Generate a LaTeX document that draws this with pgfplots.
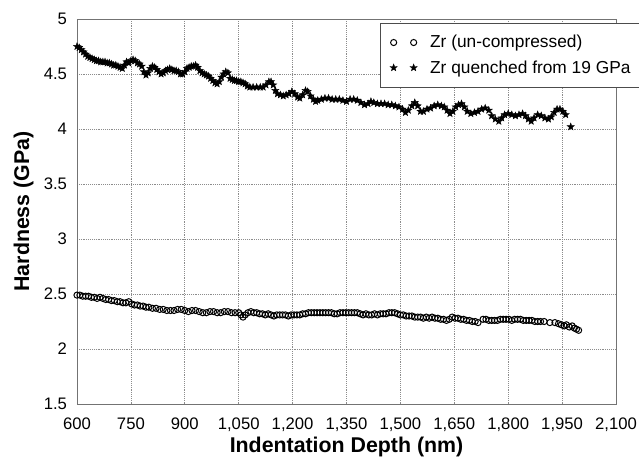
\documentclass[border=0pt]{standalone}
\usepackage{fontspec}
\setmainfont{Liberation Sans}
\usepackage{pgfplots}
\pgfplotsset{compat=1.18}

\pgfdeclareplotmark{fstar}{%
  \pgfpathmoveto{\pgfqpointpolar{90}{\pgfplotmarksize}}%
  \pgfpathlineto{\pgfqpointpolar{126}{0.42\pgfplotmarksize}}%
  \pgfpathlineto{\pgfqpointpolar{162}{\pgfplotmarksize}}%
  \pgfpathlineto{\pgfqpointpolar{198}{0.42\pgfplotmarksize}}%
  \pgfpathlineto{\pgfqpointpolar{234}{\pgfplotmarksize}}%
  \pgfpathlineto{\pgfqpointpolar{270}{0.42\pgfplotmarksize}}%
  \pgfpathlineto{\pgfqpointpolar{306}{\pgfplotmarksize}}%
  \pgfpathlineto{\pgfqpointpolar{342}{0.42\pgfplotmarksize}}%
  \pgfpathlineto{\pgfqpointpolar{18}{\pgfplotmarksize}}%
  \pgfpathlineto{\pgfqpointpolar{54}{0.42\pgfplotmarksize}}%
  \pgfpathclose
  \pgfusepathqfillstroke}

\pgfplotsset{twomarks/.style={legend image code/.code={\draw[##1] plot coordinates {(0pt,0pt) (15pt,0pt)};\path (25pt,0pt);}}}

\begin{document}
\begin{tikzpicture}
\useasboundingbox (-57.75pt,-39.75pt) rectangle (421.5pt,303pt);
\begin{axis}[
  scale only axis,
  width=404.25pt, height=288.75pt,
  xmin=600, xmax=2100, ymin=1.5, ymax=5,
  xtick={600,750,...,2100},
  ytick={1.5,2,...,5},
  /pgf/number format/assume math mode=true,
  /pgf/number format/1000 sep={,},
  xticklabel style={/pgf/number format/1000 sep={,}, yshift=-7pt},
  yticklabel style={/pgf/number format/fixed, xshift=-4pt},
  tick label style={font=\fontsize{12.5}{14}\selectfont},
  tick style={draw=none},
  grid=major,
  major grid style={densely dotted, black!45, line width=0.5pt},
  axis line style={black!55, line width=0.7pt},
  xlabel={Indentation Depth (nm)},
  ylabel={Hardness (GPa)},
  every axis x label/.style={at={(axis description cs:0.5,-0.112)}, anchor=center,
    font=\fontsize{16}{19}\selectfont\bfseries},
  every axis y label/.style={at={(axis description cs:-0.099,0.5)}, rotate=90, anchor=center,
    font=\fontsize{16}{19}\selectfont\bfseries},
  legend style={at={(1.05,0.99)}, anchor=north east, draw=black!70, line width=0.6pt,
    fill=white, font=\fontsize{13}{15}\selectfont, cells={anchor=west},
    row sep=4pt, inner xsep=7pt, inner ysep=7pt},
]
\addplot[only marks, mark=o, mark size=2.3pt, black, line width=0.75pt, twomarks]
coordinates {
(600,2.49)(608,2.49)(616,2.48)(624,2.48)(632,2.48)(640,2.47)(648,2.47)(656,2.46)(664,2.47)(672,2.46)
(680,2.45)(688,2.45)(696,2.44)(704,2.44)(712,2.43)(720,2.43)(728,2.42)(736,2.42)(744,2.43)(752,2.41)
(760,2.40)(768,2.40)(776,2.39)(784,2.39)(792,2.38)(800,2.38)(810,2.37)(820,2.37)(830,2.36)(840,2.36)
(850,2.35)(860,2.35)(870,2.35)(880,2.36)(890,2.36)(900,2.35)(910,2.34)(920,2.35)(930,2.35)(940,2.34)
(950,2.33)(960,2.33)(970,2.34)(980,2.34)(990,2.33)(1000,2.33)(1010,2.34)(1020,2.34)(1030,2.33)(1040,2.33)
(1050,2.33)(1056,2.31)(1062,2.29)(1068,2.31)(1076,2.33)(1084,2.34)(1092,2.33)(1100,2.33)(1108,2.32)(1116,2.32)
(1124,2.31)(1132,2.32)(1140,2.31)(1148,2.30)(1156,2.31)(1164,2.31)(1172,2.31)(1180,2.31)(1188,2.30)(1196,2.31)
(1204,2.31)(1212,2.31)(1220,2.31)(1228,2.32)(1236,2.32)(1244,2.33)(1252,2.33)(1260,2.33)(1268,2.33)(1276,2.33)
(1284,2.33)(1292,2.33)(1300,2.33)(1308,2.33)(1316,2.32)(1324,2.32)(1332,2.33)(1340,2.33)(1348,2.33)(1356,2.33)
(1364,2.33)(1372,2.33)(1380,2.33)(1388,2.32)(1396,2.31)(1404,2.32)(1412,2.31)(1420,2.31)(1428,2.32)(1436,2.31)
(1444,2.32)(1452,2.32)(1460,2.32)(1468,2.33)(1476,2.33)(1484,2.33)(1492,2.32)(1500,2.31)(1508,2.31)(1516,2.30)
(1524,2.30)(1532,2.30)(1540,2.29)(1548,2.29)(1556,2.29)(1564,2.28)(1572,2.29)(1580,2.28)(1588,2.29)(1596,2.28)
(1604,2.28)(1612,2.27)(1620,2.27)(1628,2.26)(1636,2.27)(1644,2.29)(1652,2.28)(1660,2.28)(1668,2.27)(1676,2.27)
(1684,2.26)(1692,2.26)(1700,2.25)(1708,2.25)(1716,2.24)(1730,2.27)(1738,2.27)(1746,2.26)(1754,2.26)(1762,2.26)
(1770,2.26)(1778,2.27)(1786,2.27)(1794,2.27)(1802,2.27)(1810,2.26)(1818,2.27)(1826,2.27)(1834,2.27)(1842,2.26)
(1850,2.26)(1858,2.26)(1866,2.26)(1874,2.25)(1882,2.25)(1890,2.25)(1900,2.25)(1916,2.24)(1930,2.24)(1940,2.23)
(1948,2.22)(1956,2.21)(1962,2.22)(1970,2.20)(1978,2.21)(1984,2.19)(1990,2.18)(1996,2.17)
};
\addlegendentry{Zr (un-compressed)}
\addplot[only marks, mark=fstar, mark size=2.8pt, black, line width=0.3pt, twomarks]
coordinates {
(600,4.75)(606,4.74)(612,4.72)(618,4.70)(624,4.68)(630,4.66)(636,4.65)(642,4.64)(648,4.63)(654,4.62)
(660,4.62)(666,4.61)(672,4.61)(678,4.61)(684,4.60)(690,4.60)(696,4.59)(702,4.58)(708,4.58)(714,4.57)
(720,4.56)(726,4.55)(732,4.58)(738,4.61)(744,4.60)(750,4.62)(756,4.63)(762,4.62)(768,4.60)(774,4.59)
(780,4.57)(786,4.52)(792,4.49)(798,4.51)(804,4.55)(810,4.57)(816,4.56)(822,4.54)(828,4.52)(834,4.50)
(840,4.51)(846,4.53)(852,4.54)(858,4.55)(864,4.54)(870,4.53)(876,4.53)(882,4.52)(888,4.50)(894,4.50)
(900,4.52)(906,4.55)(912,4.56)(918,4.57)(924,4.57)(930,4.58)(936,4.56)(942,4.53)(948,4.51)(954,4.50)
(960,4.49)(966,4.48)(972,4.46)(978,4.44)(984,4.42)(990,4.41)(996,4.43)(1002,4.47)(1008,4.50)(1014,4.52)
(1020,4.51)(1026,4.46)(1032,4.45)(1038,4.44)(1044,4.44)(1050,4.43)(1056,4.43)(1062,4.42)(1068,4.41)(1074,4.39)
(1081,4.38)(1090,4.38)(1100,4.38)(1110,4.38)(1118,4.38)(1126,4.40)(1134,4.43)(1140,4.43)(1146,4.40)(1152,4.35)
(1158,4.32)(1166,4.31)(1174,4.30)(1182,4.31)(1190,4.32)(1198,4.34)(1206,4.32)(1214,4.29)(1220,4.28)(1228,4.31)
(1236,4.35)(1242,4.34)(1250,4.30)(1258,4.27)(1264,4.25)(1270,4.26)(1280,4.27)(1290,4.28)(1300,4.28)(1310,4.27)
(1320,4.27)(1330,4.27)(1340,4.26)(1350,4.25)(1360,4.27)(1370,4.27)(1380,4.26)(1390,4.24)(1400,4.22)(1410,4.23)
(1418,4.25)(1426,4.24)(1436,4.23)(1446,4.23)(1456,4.23)(1466,4.22)(1476,4.22)(1486,4.21)(1496,4.20)(1506,4.18)
(1514,4.15)(1522,4.17)(1532,4.21)(1540,4.24)(1548,4.21)(1556,4.16)(1564,4.16)(1574,4.18)(1584,4.19)(1594,4.21)
(1604,4.22)(1614,4.21)(1622,4.20)(1630,4.17)(1638,4.14)(1646,4.16)(1654,4.20)(1662,4.22)(1670,4.23)(1678,4.20)
(1686,4.16)(1696,4.14)(1706,4.15)(1716,4.16)(1726,4.18)(1736,4.19)(1746,4.17)(1754,4.12)(1764,4.09)(1774,4.07)
(1782,4.10)(1790,4.13)(1800,4.14)(1810,4.13)(1820,4.12)(1830,4.13)(1840,4.14)(1848,4.12)(1856,4.09)(1864,4.07)
(1872,4.10)(1882,4.13)(1892,4.12)(1902,4.10)(1912,4.09)(1920,4.11)(1928,4.15)(1936,4.18)(1944,4.18)(1952,4.16)
(1960,4.13)(1974,4.02)
};
\addlegendentry{Zr quenched from 19 GPa}
\end{axis}
\end{tikzpicture}
\end{document}
